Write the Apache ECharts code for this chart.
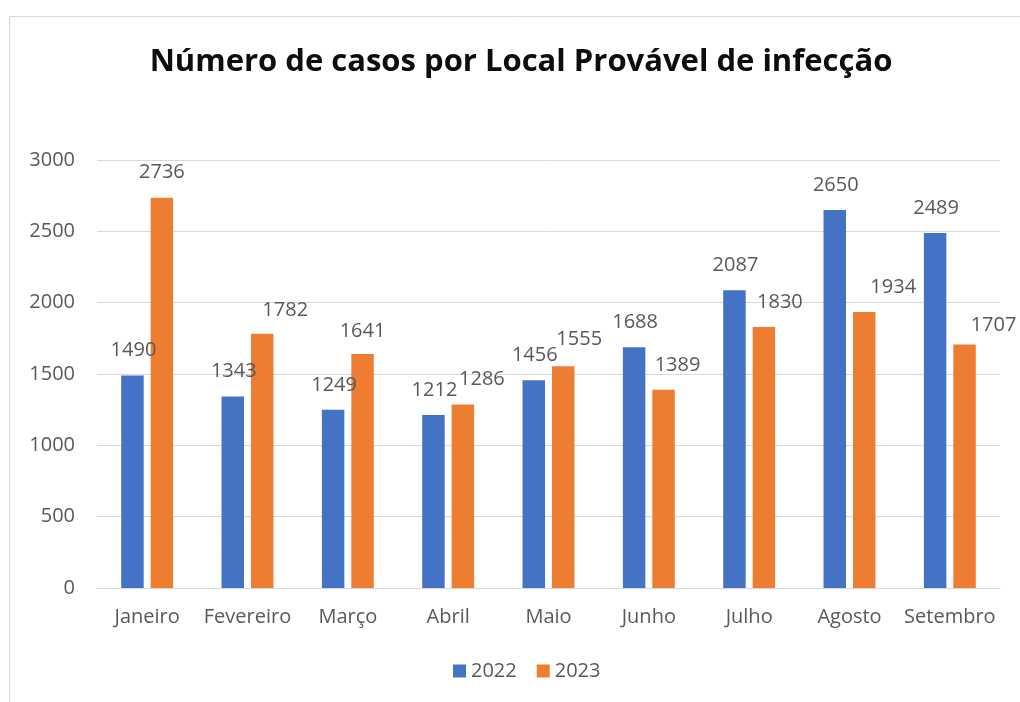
<!DOCTYPE html>
<html>
<head>
<meta charset="utf-8">
<script src="https://cdn.jsdelivr.net/npm/echarts@6/dist/echarts.min.js"></script>
<style>html,body{margin:0;padding:0;background:#fff}#c{width:1020px;height:702px}</style>
</head>
<body>
<div id="c"></div>
<script>
const titleText = 'Número de casos por Local Provável de infecção';
const categories = ['Janeiro','Fevereiro','Março','Abril','Maio','Junho','Julho','Agosto','Setembro'];
const seriesNames = ['2022','2023'];
const values2022 = [1490,1343,1249,1212,1456,1688,2087,2650,2489];
const values2023 = [2736,1782,1641,1286,1555,1389,1830,1934,1707];
const yTicks = [0,500,1000,1500,2000,2500,3000];
// label nudges (style only) for the 2023 labels, as placed in the original
const labelNudge2023 = [[0,0],[23,2],[0,2],[19,0],[16,-2],[14,0],[16,0],[29,0],[29,6]];

const FONT = '"Open Sans", "Noto Sans", sans-serif';
const TXT = '#595959';

const chart = echarts.init(document.getElementById('c'), null, {renderer:'canvas'});
const baseLabel = {show:true, position:'top', distance:15, color:TXT, fontSize:20, fontFamily:FONT};

chart.setOption({
  animation:false,
  backgroundColor:'#ffffff',
  graphic:[{type:'rect', shape:{x:9.5,y:16.5,width:1100,height:1000}, style:{fill:'none', stroke:'#d9d9d9', lineWidth:1}, silent:true}],
  title:{text:titleText, left:516, textAlign:'center', top:42,
    textStyle:{fontFamily:FONT, fontWeight:'bold', fontSize:31, color:'#0d0d0d'}},
  legend:{data:seriesNames, bottom:16, left:448, itemWidth:13, itemHeight:13, itemGap:20,
    icon:'rect', textStyle:{color:TXT, fontSize:20, fontFamily:FONT}},
  grid:{left:97, right:20, top:160, bottom:114, containLabel:false},
  xAxis:{type:'category', data:categories,
    axisLine:{lineStyle:{color:'#d9d9d9', width:1}}, axisTick:{show:false},
    axisLabel:{color:TXT, fontSize:20, fontFamily:FONT, margin:19, interval:0}},
  yAxis:{type:'value', min:yTicks[0], max:yTicks[yTicks.length-1], interval:yTicks[1]-yTicks[0],
    axisLine:{show:false}, axisTick:{show:false},
    splitLine:{lineStyle:{color:'#d9d9d9', width:1}},
    axisLabel:{color:TXT, fontSize:20, fontFamily:FONT, margin:22, formatter:(v)=>String(v)}},
  series:[
    {name:seriesNames[0], type:'bar', data:values2022, barWidth:'22.4%', barGap:'31%',
      itemStyle:{color:'#4472C4'}, label:Object.assign({}, baseLabel, {offset:[1,0]})},
    {name:seriesNames[1], type:'bar', barWidth:'22.4%', barGap:'31%',
      data:values2023.map((v,i)=>({value:v, label:{offset:labelNudge2023[i]}})),
      itemStyle:{color:'#ED7D31'}, label:baseLabel}
  ]
});
</script>
</body>
</html>
